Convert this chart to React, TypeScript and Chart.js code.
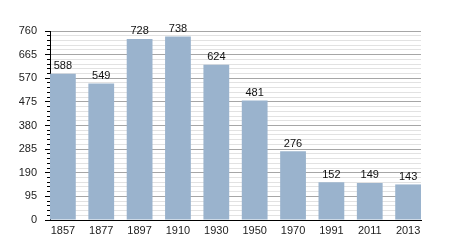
import React, { useEffect, useRef } from "react";
import { Chart, registerables } from "chart.js";

Chart.register(...registerables);

const categories = ["1857", "1877", "1897", "1910", "1930", "1950", "1970", "1991", "2011", "2013"];
const populations = [588, 549, 728, 738, 624, 481, 276, 152, 149, 143];
const yMajorTicks = [0, 95, 190, 285, 380, 475, 570, 665, 760];
const yMinorStep = 19;

const FONT = "'Liberation Sans', Arial, sans-serif";
const BAR_COLOR = "#9ab3cd";

const valueLabels = {
  id: "valueLabels",
  afterDatasetsDraw(chart: any) {
    const ctx = chart.ctx;
    const meta = chart.getDatasetMeta(0);
    ctx.save();
    ctx.font = `11px ${FONT}`;
    ctx.fillStyle = "#111";
    ctx.textAlign = "center";
    ctx.textBaseline = "bottom";
    meta.data.forEach((bar: any, i: number) => {
      ctx.fillText(String(populations[i]), bar.x, bar.y - 2);
    });
    ctx.restore();
  },
};

export default function App() {
  const ref = useRef<HTMLCanvasElement>(null);
  useEffect(() => {
    document.body.style.margin = "0";
    const allY: number[] = [];
    for (let v = 0; v <= yMajorTicks[yMajorTicks.length - 1]; v += yMinorStep) allY.push(v);
    const isMajor = (v: number) => yMajorTicks.includes(v);
    const chart = new Chart(ref.current!, {
      type: "bar",
      data: {
        datasets: [
          {
            data: populations.map((p, i) => ({ x: i, y: p })),
            backgroundColor: BAR_COLOR,
            borderWidth: 0,
            categoryPercentage: 1,
            barPercentage: 0.672,
          },
        ],
      },
      options: {
        animation: false,
        responsive: false,
        layout: { padding: { left: 0, right: 29, top: 31, bottom: 8 } },
        plugins: { legend: { display: false }, tooltip: { enabled: false } },
        scales: {
          x: {
            type: "linear",
            offset: false,
            min: -0.336,
            max: 9.336,
            afterFit: (s: any) => { s.height = 22; },
            afterBuildTicks: (s: any) => { s.ticks = categories.map((_, i) => ({ value: i })); },
            ticks: {
              autoSkip: false,
              includeBounds: false,
              maxRotation: 0,
              padding: 4,
              color: "#222",
              font: { family: FONT, size: 11 },
              callback: (v: any) => categories[v] ?? "",
            },
            grid: { display: false, drawTicks: false, offset: false },
            border: { color: "#000", width: 1 },
          },
          y: {
            min: 0,
            max: 760,
            afterFit: (s: any) => { s.width = 50; },
            afterBuildTicks: (s: any) => { s.ticks = allY.map((v) => ({ value: v })); },
            ticks: {
              autoSkip: false,
              padding: 8,
              color: "#222",
              font: { family: FONT, size: 11 },
              callback: (v: any) => (isMajor(v) ? String(v) : ""),
            },
            grid: {
              color: (c: any) => (isMajor(c.tick?.value) ? "#a6a6a6" : "#e2e2e2"),
              tickColor: "#000",
              tickLength: 5,
              tickBorderDash: (c: any) => (isMajor(c.tick?.value) ? [] : [0, 2, 3, 0]),
            },
            border: { color: "#000", width: 1 },
          },
        },
      },
      plugins: [valueLabels],
    });
    return () => chart.destroy();
  }, []);
  return <canvas ref={ref} width={450} height={250} />;
}
